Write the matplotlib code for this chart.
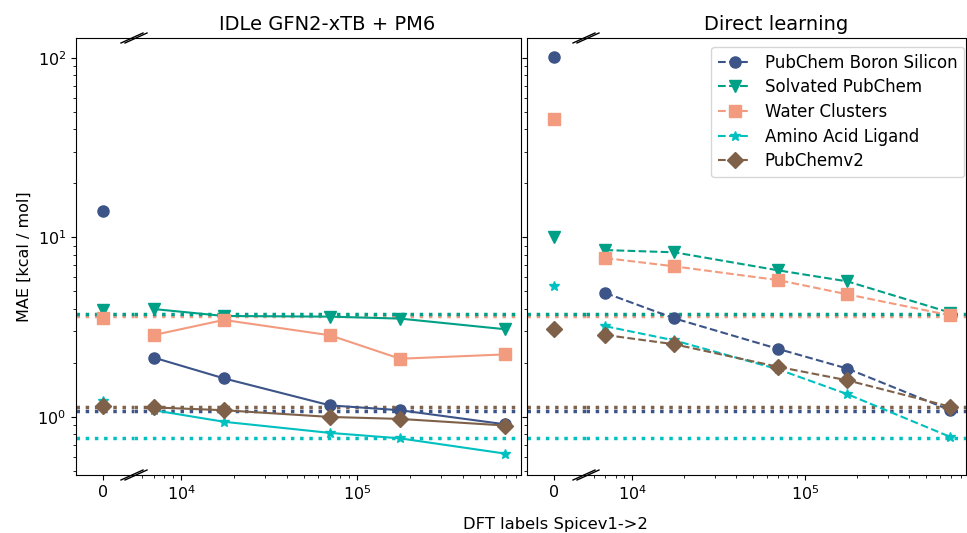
import matplotlib
matplotlib.use("Agg")
import matplotlib.pyplot as plt
from matplotlib.lines import Line2D

# data
n_labels = [7000, 17500, 70000, 175000, 690000]
names = ["PubChem Boron Silicon", "Solvated PubChem", "Water Clusters",
         "Amino Acid Ligand", "PubChemv2"]
colors = ["#3C5488", "#00A087", "#F39B7F", "#00C0C0", "#7E6148"]
markers = ["o", "v", "s", "*", "D"]
msizes = [8, 8, 8, 7.5, 8]

# MAE at zero DFT labels
idle_zero = [14.0, 3.94, 3.57, 1.22, 1.15]
direct_zero = [100.5, 10.0, 45.5, 5.36, 3.10]

idle_mae = [
    [2.14, 1.64, 1.16, 1.09, 0.91],
    [3.99, 3.65, 3.62, 3.53, 3.08],
    [2.86, 3.47, 2.85, 2.11, 2.23],
    [1.09, 0.94, 0.815, 0.76, 0.625],
    [1.13, 1.09, 1.00, 0.975, 0.896],
]
direct_mae = [
    [4.90, 3.54, 2.39, 1.86, 1.09],
    [8.50, 8.26, 6.55, 5.69, 3.81],
    [7.67, 6.90, 5.78, 4.82, 3.68],
    [3.20, 2.67, 1.84, 1.34, 0.774],
    [2.86, 2.54, 1.90, 1.60, 1.14],
]
# reference levels (dotted lines)
ref_mae = [1.08, 3.75, 3.65, 0.764, 1.137]

W, H = 967, 533
fig = plt.figure(figsize=(W / 100, H / 100), dpi=100)

top = 1 - 38 / H
bot = 1 - 475 / H
ylim = (0.475, 129)
xlim_log = (5400, 850000)
xlim_zero = (-1, 1.15)


def make_panel(x0, xb, x1, zero_vals, mae, ls, title, first):
    axz = fig.add_axes([x0 / W, bot, (xb - x0) / W, top - bot])
    axl = fig.add_axes([xb / W, bot, (x1 - xb) / W, top - bot], sharey=axz)
    axz.set_yscale("log")
    axz.set_ylim(*ylim)
    axl.set_xscale("log")
    axl.set_xlim(*xlim_log)
    axz.set_xlim(*xlim_zero)
    axz.set_xticks([0])
    axz.set_xticklabels(["0"])
    axz.spines["right"].set_visible(False)
    axl.spines["left"].set_visible(False)
    axl.tick_params(axis="y", which="both", left=False, labelleft=False)
    if not first:
        axz.tick_params(axis="y", which="both", labelleft=False)
    for ax in (axz, axl):
        ax.tick_params(labelsize=11.5)

    # reference levels
    order = [4, 0, 2, 1, 3]
    for i in order:
        for ax in (axz, axl):
            ax.axhline(ref_mae[i], color=colors[i], ls=":", lw=2.5, zorder=1)

    for i in range(5):
        axz.plot([0], [zero_vals[i]], marker=markers[i], color=colors[i],
                 ms=msizes[i], ls="none", zorder=3)
        axl.plot(n_labels, mae[i], marker=markers[i], color=colors[i],
                 ms=msizes[i], ls=ls, lw=1.5, label=names[i], zorder=3)
    axl.set_title(title, fontsize=14)

    # break marks
    for yy in (top, bot):
        for off in (-2, 2):
            cx = xb + off
            fig.add_artist(Line2D([(cx - 11) / W, (cx + 11) / W],
                                  [yy - 5 / H, yy + 5 / H],
                                  color="black", lw=1, transform=fig.transFigure))
    return axz, axl


axz1, axl1 = make_panel(76, 134, 521, idle_zero, idle_mae, "-",
                        "IDLe GFN2-xTB + PM6", True)
axz2, axl2 = make_panel(527, 586, 966, direct_zero, direct_mae, "--",
                        "Direct learning", False)

axz1.set_ylabel("MAE [kcal / mol]", fontsize=11.5)
axl2.legend(loc="upper right", fontsize=12, bbox_to_anchor=(1.0, 0.984),
            borderaxespad=0.12, labelspacing=0.4)
fig.text(555 / W, 1 - 524 / H, "DFT labels Spicev1->2", ha="center",
         va="center", fontsize=11.8)

fig.savefig("out.png", dpi=100)
